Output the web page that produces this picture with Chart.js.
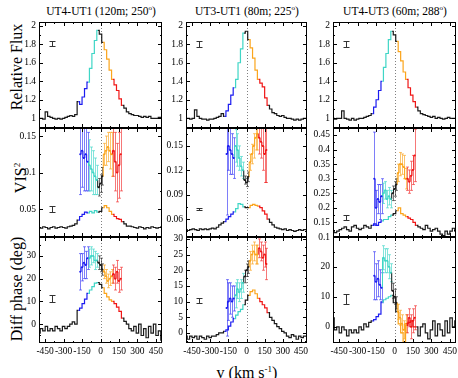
<!DOCTYPE html>
<html>
<head>
<meta charset="utf-8">
<title>Flux, VIS2 and differential phase per baseline</title>
<script src="https://cdn.jsdelivr.net/npm/chart.js@4.4.1/dist/chart.umd.min.js"></script>
<style>
  html, body { margin: 0; padding: 0; background: #fff; }
  body {
    position: relative; width: 458px; height: 378px; overflow: hidden;
    font-family: "Liberation Serif", "DejaVu Serif", serif; color: #000;
  }
  canvas { position: absolute; }
  .title { position: absolute; top: 0; width: 160px; text-align: center; font-size: 11.5px; line-height: 16px; white-space: nowrap; }
  .title sup { font-size: 7px; }
  .ylab {
    position: absolute; width: 130px; height: 18px; line-height: 18px; text-align: center;
    font-size: 16px; white-space: nowrap; transform: translate(-50%, -50%) rotate(-90deg);
  }
  .ylab sup { font-size: 9px; }
  .xlab { position: absolute; left: 187px; top: 360px; width: 120px; text-align: center; font-size: 16px; line-height: 18px; white-space: nowrap; }
  .xlab sup { font-size: 9px; }
</style>
</head>
<body>
<div class="title" style="left:21px">UT4-UT1 (120m; 250<sup>o</sup>)</div>
<div class="title" style="left:167px">UT3-UT1 (80m; 225<sup>o</sup>)</div>
<div class="title" style="left:315px">UT4-UT3 (60m; 288<sup>o</sup>)</div>
<div class="ylab" style="left:17px;top:67px">Relative Flux</div>
<div class="ylab" style="left:17px;top:178px">VIS<sup>2</sup></div>
<div class="ylab" style="left:17px;top:289px">Diff phase (deg)</div>
<div class="xlab">v (km s<sup>-1</sup>)</div>

<script>
// velocity grid of the spectra and of the points with error bars
const VEL = [-500, -480, -460, -440, -420, -400, -380, -360, -340, -320,
  -300, -280, -260, -240, -220, -200, -180, -160, -140, -120,
  -100, -80, -60, -40, -20, 0, 20, 40, 60, 80,
  100, 120, 140, 160, 180, 200, 220, 240, 260, 280,
  300, 320, 340, 360, 380, 400, 420, 440, 460, 480, 500];
const ERR_VEL = [-165, -150, -135, -120, -105, -90, -75, -60, -45, -30,
  -15, 0, 15, 30, 45, 60, 75, 90, 105, 120, 135, 150, 165];

const X_TICKS = [-450, -300, -150, 0, 150, 300, 450];
const FLUX_TICKS = [1, 1.2, 1.4, 1.6, 1.8, 2];
const VIS_TICKS = [[0.05, 0.1, 0.15], [0.06, 0.09, 0.12, 0.15], [0.1, 0.15, 0.2, 0.25, 0.3, 0.35, 0.4, 0.45]];
const PHI_TICKS = [[0, 10, 20, 30], [0, 5, 10, 15, 20, 25, 30], [0, 10, 20]];

// relative flux
const FLUX_1 = [1.0, 1.0, 0.99, 1.07, 1.02, 1.01, 1.0, 0.99, 1.0, 0.99,
  1.0, 1.01, 1.02, 1.03, 1.02, 1.04, 1.18, 1.15, 1.23, 1.32,
  1.39, 1.54, 1.70, 1.84, 1.95, 1.91, 1.82, 1.74, 1.64, 1.52,
  1.42, 1.36, 1.30, 1.21, 1.14, 1.11, 1.07, 1.05, 1.04, 1.03,
  1.03, 1.02, 1.01, 1.02, 1.01, 1.02, 1.0, 1.0, 1.0, 1.01, 1.0];
const FLUX_2 = [1.0, 1.0, 0.99, 1.0, 1.09, 1.02, 1.0, 0.99, 0.99, 0.98,
  0.99, 0.99, 1.0, 1.01, 1.02, 1.05, 1.02, 1.08, 1.15, 1.25,
  1.33, 1.42, 1.6, 1.75, 1.92, 1.94, 1.85, 1.76, 1.65, 1.52,
  1.42, 1.38, 1.34, 1.22, 1.14, 1.1, 1.06, 1.05, 1.03, 1.02,
  1.03, 1.01, 1.0, 1.0, 0.99, 0.98, 0.99, 0.98, 0.99, 1.0, 1.0];
const FLUX_3 = [1.0, 0.99, 1.0, 1.0, 1.08, 1.0, 0.99, 0.98, 1.0, 0.98,
  0.99, 1.0, 1.0, 1.01, 1.02, 1.03, 1.05, 1.12, 1.2, 1.3,
  1.4, 1.55, 1.7, 1.85, 1.94, 1.9, 1.83, 1.72, 1.62, 1.5,
  1.42, 1.33, 1.25, 1.18, 1.12, 1.08, 1.05, 1.04, 1.03, 1.02,
  1.01, 1.02, 1.0, 1.01, 1.0, 0.99, 1.0, 1.01, 1.0, 1.0, 1.0];

// squared visibility, full spectrum
const VIS_1 = [0.025, 0.024, 0.026, 0.025, 0.023, 0.025, 0.026, 0.024, 0.025, 0.026,
  0.025, 0.024, 0.026, 0.027, 0.028, 0.030, 0.035, 0.040, 0.043, 0.046,
  0.045, 0.047, 0.045, 0.048, 0.046, 0.047, 0.052, 0.055, 0.052, 0.047,
  0.043, 0.040, 0.037, 0.036, 0.033, 0.030, 0.027, 0.027, 0.026, 0.025,
  0.024, 0.026, 0.025, 0.023, 0.025, 0.024, 0.026, 0.025, 0.024, 0.025, 0.026];
const VIS_2 = [0.047, 0.046, 0.047, 0.048, 0.047, 0.046, 0.048, 0.047, 0.048, 0.047,
  0.048, 0.049, 0.048, 0.050, 0.053, 0.055, 0.057, 0.060, 0.063, 0.066,
  0.069, 0.073, 0.079, 0.078, 0.075, 0.074, 0.074, 0.077, 0.078, 0.077,
  0.076, 0.074, 0.070, 0.066, 0.060, 0.056, 0.053, 0.050, 0.049, 0.048,
  0.047, 0.048, 0.046, 0.047, 0.046, 0.045, 0.046, 0.047, 0.046, 0.047, 0.047];
const VIS_3 = [0.12, 0.115, 0.12, 0.125, 0.13, 0.135, 0.125, 0.12, 0.135, 0.14,
  0.13, 0.125, 0.13, 0.14, 0.135, 0.13, 0.14, 0.145, 0.14, 0.15,
  0.155, 0.16, 0.16, 0.17, 0.175, 0.18, 0.19, 0.2, 0.18, 0.175,
  0.17, 0.165, 0.16, 0.15, 0.14, 0.135, 0.13, 0.125, 0.14, 0.13,
  0.12, 0.125, 0.13, 0.12, 0.11, 0.105, 0.12, 0.11, 0.12, 0.13, 0.12];

// squared visibility, line points with error bars
const VIS_PT_1 = [0.125, 0.13, 0.12, 0.125, 0.115, 0.11, 0.105, 0.1, 0.095, 0.09,
  0.08, 0.085, 0.095, 0.125, 0.13, 0.135, 0.13, 0.125, 0.13, 0.115, 0.1, 0.11, 0.125];
const VIS_ERR_1 = [0.055, 0.05, 0.045, 0.05, 0.04, 0.035, 0.03, 0.03, 0.025, 0.02,
  0.012, 0.012, 0.012, 0.015, 0.02, 0.02, 0.025, 0.03, 0.035, 0.04, 0.04, 0.045, 0.05];
const VIS_PT_2 = [0.14, 0.15, 0.145, 0.14, 0.135, 0.15, 0.145, 0.135, 0.125, 0.12,
  0.108, 0.105, 0.112, 0.13, 0.14, 0.15, 0.16, 0.165, 0.16, 0.155, 0.15, 0.14, 0.145];
const VIS_ERR_2 = [0.075, 0.03, 0.03, 0.025, 0.025, 0.02, 0.02, 0.015, 0.012, 0.01,
  0.005, 0.005, 0.006, 0.01, 0.012, 0.015, 0.015, 0.02, 0.02, 0.02, 0.03, 0.035, 0.04];
const VIS_PT_3 = [0.3, 0.2, 0.23, 0.22, 0.24, 0.25, 0.26, 0.23, 0.24, 0.23,
  0.25, 0.265, 0.28, 0.32, 0.35, 0.35, 0.34, 0.3, 0.3, 0.29, 0.31, 0.33, 0.38];
const VIS_ERR_3 = [0.16, 0.06, 0.05, 0.06, 0.06, 0.035, 0.03, 0.03, 0.03, 0.03,
  0.025, 0.025, 0.02, 0.03, 0.04, 0.035, 0.04, 0.035, 0.04, 0.04, 0.05, 0.05, 0.09];

// differential phase, full spectrum
const PHI_1 = [-4, -2, -3, -1, -3, -2, -3, -1, -2, -3,
  -1, -2, -1, 0, 1, 0, 6, 7, 9, 11,
  13.5, 15, 16.5, 18, 18.3, 17.5, 16, 13.5, 12, 10.7,
  10, 9, 7.5, 5.6, 2.6, 1.2, 0, -2, -3, -1,
  -4, 0, -5, -2, -6, -1, -4, 0, -5, -3, -7];
const PHI_2 = [-1, -2, -1, -1.5, -1, -2, -1, -1.5, -2, -1,
  -1.5, -1, -1, -0.5, 0, 0, 0.5, 1, 2.2, 3.5,
  4.6, 5.7, 6.8, 7.5, 9, 10.5, 12, 13.2, 13.7, 12.5,
  11, 10, 9, 8, 6.5, 5, 4, 3, 2, 1.4,
  0.5, 0, -1, -1.5, -0.5, -1, -2, -1, -1.5, -1, -1];
const PHI_3 = [3, -1, 0, -2, 0, -1, -3, -1, -2, -1,
  -2, 0, -1, 1, 0, 1.5, 2, 2.4, 3.4, 4.2,
  8.3, 9, 9.5, 10, 10.5, 8, 5, 1, -2, -5,
  0.5, 1.5, 2, 0, 0, -3, 0, 1, -2, -4,
  -1, 2, -3, 1, -1, -3, 2, -2, 3, 0, 2];

// differential phase, line points with error bars
const PHI_PT_1 = [23, 25, 27, 26, 29, 29, 30, 30, 28, 28,
  27, 26, 24, 23, 21, 19, 20, 21, 22, 20, 23, 19, 20];
const PHI_ERR_1 = [8, 6, 7, 6, 5, 4, 4, 3, 4, 3,
  3, 3, 2.5, 3, 3, 3, 3, 3, 4, 5, 5, 5, 5];
const PHI_PT_2 = [8, 10, 11, 10, 11, 12, 14, 13, 14, 16,
  18, 20, 21, 23, 25, 26, 25, 25, 27, 26, 24, 25, 22];
const PHI_ERR_2 = [9, 6, 5, 5, 4, 4, 3, 3, 3, 3,
  2, 2, 2, 3, 3, 3, 3, 3, 3, 3, 4, 4, 5];
const PHI_PT_3 = [17, 15, 16, 14, 13, 23, 22, 22, 20, 18,
  12, 10, 8, 5, 3, 1, -1, 1, 1, 3, 0, 2, 3];
const PHI_ERR_3 = [8, 6, 6, 5, 5, 4, 4, 4, 4, 3,
  2.5, 2.5, 2, 2.5, 2.5, 3, 3, 3, 3, 3, 4, 4, 4];

// typical error bar shown in each panel
const SAMPLE_V = -395;
const SAMPLE_FLUX = [1.81, 1.8, 1.8];
const SAMPLE_FLUX_ERR = [0.03, 0.03, 0.03];
const SAMPLE_VIS = [0.05, 0.072, 0.167];
const SAMPLE_VIS_ERR = [0.0037, 0.0012, 0.0086];
const SAMPLE_PHI = [11.3, 10.5, 9.3];
const SAMPLE_PHI_ERR = [1.5, 0.8, 1.7];

// velocity bands used for colouring
const BAND_EDGES = [-175, -97.5, -22.5, 22.5, 97.5, 175];
const BAND_COLORS = ["#1c1cf0", "#3fd6c6", "#1a1a1a", "#fba51c", "#f01616"];
const BAND_FAINT = ["rgba(40,40,245,0.6)", "rgba(64,214,200,0.65)", "rgba(30,30,30,0.6)",
  "rgba(251,165,30,0.65)", "rgba(240,30,30,0.6)"];

const COLS = [{ left: 39, width: 123 }, { left: 186, width: 121 }, { left: 333, width: 123 }];
const ROWS = [{ top: 22, height: 106 }, { top: 128, height: 109 }, { top: 237, height: 106 }];
const YW = 34;
const PAD = 12;
const XH = 18;
const FONT = "'Liberation Serif', 'DejaVu Serif', serif";

function band(v) {
  for (let i = 0; i < BAND_COLORS.length; i++) {
    if (v >= BAND_EDGES[i] && v < BAND_EDGES[i + 1]) return i;
  }
  return -1;
}

function lineColor(v) {
  const b = band(v);
  return b < 0 ? "#1a1a1a" : BAND_COLORS[b];
}

function faintColor(v) {
  const b = band(v);
  return b < 0 ? "rgba(30,30,30,0.6)" : BAND_FAINT[b];
}

function points(xs, ys) {
  return xs.map((v, i) => ({ x: v, y: ys[i] }));
}

function withMinors(major, lo, hi) {
  const out = [];
  const step = major[1] - major[0];
  const first = major[0] - step / 2;
  for (let v = first; v <= hi + 1e-9; v += step / 2) {
    if (v >= lo - 1e-9) out.push({ v, major: major.some((m) => Math.abs(m - v) < step * 1e-3) });
  }
  return out;
}

const panelDecor = {
  id: "panelDecor",
  beforeDatasetsDraw(chart, args, opts) {
    const { ctx, chartArea: a, scales: { x, y } } = chart;
    ctx.save();
    ctx.beginPath();
    ctx.rect(a.left, a.top, a.width, a.height);
    ctx.clip();

    // dotted line at v = 0
    const x0 = Math.round(x.getPixelForValue(0)) + 0.5;
    ctx.strokeStyle = "#808080";
    ctx.lineWidth = 1;
    ctx.setLineDash([1, 2]);
    ctx.beginPath();
    ctx.moveTo(x0, a.top);
    ctx.lineTo(x0, a.bottom);
    ctx.stroke();
    ctx.setLineDash([]);

    // error bars of the line points
    chart.data.datasets.forEach((ds) => {
      if (!ds.errors) return;
      ds.data.forEach((p, i) => {
        const px = Math.round(x.getPixelForValue(p.x)) + 0.5;
        const lo = y.getPixelForValue(p.y - ds.errors[i]);
        const hi = y.getPixelForValue(p.y + ds.errors[i]);
        ctx.strokeStyle = faintColor(p.x);
        ctx.beginPath();
        ctx.moveTo(px, lo);
        ctx.lineTo(px, hi);
        ctx.moveTo(px - 1.5, lo);
        ctx.lineTo(px + 1.5, lo);
        ctx.moveTo(px - 1.5, hi);
        ctx.lineTo(px + 1.5, hi);
        ctx.stroke();
      });
    });

    // typical error bar
    if (opts.sample) {
      const [sv, sy, se] = opts.sample;
      const px = Math.round(x.getPixelForValue(sv)) + 0.5;
      const lo = Math.round(y.getPixelForValue(sy - se)) + 0.5;
      const hi = Math.round(y.getPixelForValue(sy + se)) + 0.5;
      ctx.strokeStyle = "#333";
      ctx.beginPath();
      ctx.moveTo(px, lo);
      ctx.lineTo(px, hi);
      ctx.moveTo(px - 3, lo);
      ctx.lineTo(px + 3, lo);
      ctx.moveTo(px - 3, hi);
      ctx.lineTo(px + 3, hi);
      ctx.stroke();
    }
    ctx.restore();
  },
  afterDraw(chart, args, opts) {
    const { ctx, chartArea: a, scales: { x, y } } = chart;
    ctx.save();
    ctx.strokeStyle = "#000";
    ctx.lineWidth = 1;
    ctx.strokeRect(a.left + 0.5, a.top + 0.5, a.width - 1, a.height - 1);

    ctx.beginPath();
    for (const t of withMinors(opts.xTicks, x.min, x.max)) {
      const px = Math.round(x.getPixelForValue(t.v)) + 0.5;
      const len = t.major ? 4 : 2;
      ctx.moveTo(px, a.bottom);
      ctx.lineTo(px, a.bottom - len);
      ctx.moveTo(px, a.top);
      ctx.lineTo(px, a.top + len);
    }
    for (const t of withMinors(opts.yTicks, y.min, y.max)) {
      const py = Math.round(y.getPixelForValue(t.v)) + 0.5;
      const len = t.major ? 4 : 2;
      ctx.moveTo(a.left, py);
      ctx.lineTo(a.left + len, py);
      ctx.moveTo(a.right, py);
      ctx.lineTo(a.right - len, py);
    }
    ctx.stroke();
    ctx.restore();
  },
};

function makePanel(row, col, spectrum, range, yTicks, sample, errPts, errVals) {
  const c = COLS[col];
  const r = ROWS[row];
  const isBottom = row === ROWS.length - 1;

  const canvas = document.createElement("canvas");
  canvas.width = YW + c.width + PAD;
  canvas.height = PAD + r.height + (isBottom ? XH : PAD);
  canvas.style.left = `${c.left - YW}px`;
  canvas.style.top = `${r.top - PAD}px`;
  document.body.appendChild(canvas);

  const datasets = [
    {
      data: points(VEL, spectrum),
      stepped: "middle",
      borderWidth: 1.2,
      borderColor: "#1a1a1a",
      pointRadius: 0,
      segment: {
        borderColor: (s) => lineColor((s.p0.parsed.x + s.p1.parsed.x) / 2),
      },
    },
  ];

  if (errPts) {
    datasets.push({
      data: points(ERR_VEL, errPts),
      errors: errVals,
      stepped: "middle",
      borderWidth: 1,
      borderColor: "#1a1a1a",
      pointRadius: 1,
      pointBorderWidth: 0,
      pointBackgroundColor: (s) => (s.dataIndex == null ? "#000" : lineColor(ERR_VEL[s.dataIndex])),
      segment: {
        borderColor: (s) => lineColor((s.p0.parsed.x + s.p1.parsed.x) / 2),
      },
    });
  }

  const tickFont = { family: FONT, size: 9.5 };

  new Chart(canvas, {
    type: "line",
    data: { datasets },
    options: {
      responsive: false,
      animation: false,
      events: [],
      layout: { padding: { left: 0, top: PAD, right: PAD, bottom: isBottom ? 0 : PAD } },
      plugins: {
        legend: { display: false },
        tooltip: { enabled: false },
        panelDecor: { xTicks: X_TICKS, yTicks, sample },
      },
      scales: {
        x: {
          type: "linear",
          min: -500,
          max: 500,
          afterBuildTicks: (s) => { s.ticks = X_TICKS.map((v) => ({ value: v })); },
          afterFit: (s) => { s.height = isBottom ? XH : 0; },
          grid: { display: false, drawTicks: false },
          border: { display: false },
          ticks: {
            display: isBottom,
            autoSkip: false,
            maxRotation: 0,
            padding: 3,
            color: "#000",
            font: tickFont,
            callback: (v) => String(v),
          },
        },
        y: {
          type: "linear",
          min: range[0],
          max: range[1],
          afterBuildTicks: (s) => { s.ticks = yTicks.map((v) => ({ value: v })); },
          afterFit: (s) => { s.width = YW; },
          grid: { display: false, drawTicks: false },
          border: { display: false },
          ticks: {
            autoSkip: false,
            padding: 3,
            color: "#000",
            font: tickFont,
            callback: (v) => String(v),
          },
        },
      },
    },
    plugins: [panelDecor],
  });
}

function main() {
  const fluxRange = [0.895, 2.04];
  makePanel(0, 0, FLUX_1, fluxRange, FLUX_TICKS, [SAMPLE_V, SAMPLE_FLUX[0], SAMPLE_FLUX_ERR[0]]);
  makePanel(0, 1, FLUX_2, fluxRange, FLUX_TICKS, [SAMPLE_V, SAMPLE_FLUX[1], SAMPLE_FLUX_ERR[1]]);
  makePanel(0, 2, FLUX_3, fluxRange, FLUX_TICKS, [SAMPLE_V, SAMPLE_FLUX[2], SAMPLE_FLUX_ERR[2]]);

  makePanel(1, 0, VIS_1, [0.012, 0.161], VIS_TICKS[0], [SAMPLE_V, SAMPLE_VIS[0], SAMPLE_VIS_ERR[0]], VIS_PT_1, VIS_ERR_1);
  makePanel(1, 1, VIS_2, [0.038, 0.172], VIS_TICKS[1], [SAMPLE_V, SAMPLE_VIS[1], SAMPLE_VIS_ERR[1]], VIS_PT_2, VIS_ERR_2);
  makePanel(1, 2, VIS_3, [0.1, 0.474], VIS_TICKS[2], [SAMPLE_V, SAMPLE_VIS[2], SAMPLE_VIS_ERR[2]], VIS_PT_3, VIS_ERR_3);

  makePanel(2, 0, PHI_1, [-8.3, 38.3], PHI_TICKS[0], [SAMPLE_V, SAMPLE_PHI[0], SAMPLE_PHI_ERR[0]], PHI_PT_1, PHI_ERR_1);
  makePanel(2, 1, PHI_2, [-3.2, 30.6], PHI_TICKS[1], [SAMPLE_V, SAMPLE_PHI[1], SAMPLE_PHI_ERR[1]], PHI_PT_2, PHI_ERR_2);
  makePanel(2, 2, PHI_3, [-5.4, 29.9], PHI_TICKS[2], [SAMPLE_V, SAMPLE_PHI[2], SAMPLE_PHI_ERR[2]], PHI_PT_3, PHI_ERR_3);
}

main();
</script>
</body>
</html>
